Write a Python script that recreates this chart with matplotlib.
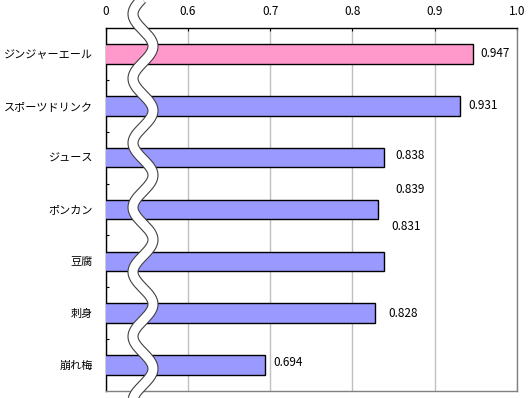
import numpy as np
import matplotlib
matplotlib.use("Agg")
import matplotlib.pyplot as plt
from matplotlib.lines import Line2D

plt.rcParams['font.family'] = ['Noto Sans CJK JP', 'DejaVu Sans']

categories = ["ジンジャーエール", "スポーツドリンク", "ジュース", "ポンカン", "豆腐", "刺身", "崩れ梅"]
values = [0.947, 0.931, 0.838, 0.831, 0.839, 0.828, 0.694]
bar_colors = ["#FF99CC"] + ["#9999FF"] * 6
tick_values = [0.5, 0.6, 0.7, 0.8, 0.9, 1.0]
tick_labels = ["0", "0.6", "0.7", "0.8", "0.9", "1.0"]
# label offsets in pixels (dx right, dy down) relative to bar end
label_dx = [7, 8, 12, 13, 11, 13, 8]
label_dy = [0, 0, -2, 17, -72, 0, -3]

W, H = 529, 398
fig = plt.figure(figsize=(W / 100, H / 100), dpi=100)
L, R, T, B = 105.5, 517, 28, 391
ax = fig.add_axes([L / W, 1 - B / H, (R - L) / W, (B - T) / H])

y = np.arange(len(categories))
ax.barh(y, values, left=0, height=0.38, color=bar_colors, edgecolor="black",
        linewidth=1.0, zorder=3)

ax.set_xlim(0.5, 1.0)
ax.set_ylim(len(categories) - 0.5, -0.5)

ax.xaxis.tick_top()
ax.set_xticks(tick_values)
ax.set_xticklabels(tick_labels, fontsize=8.5)
ax.tick_params(axis='x', direction='in', length=2.5, width=0.8, pad=7, colors='black')
ax.xaxis.grid(True, color="#C0C0C0", linewidth=1.0, zorder=0)

ax.set_yticks(y)
ax.set_yticklabels(categories, fontsize=8)
ax.tick_params(axis='y', which='major', length=0, pad=9)
ax.set_yticks(np.arange(len(categories) - 1) + 0.5, minor=True)
ax.tick_params(axis='y', which='minor', direction='in', length=2.5, width=0.8)

ax.spines['left'].set_color('black')
ax.spines['top'].set_color('black')
ax.spines['right'].set_color('#808080')
ax.spines['bottom'].set_color('#808080')
for s in ax.spines.values():
    s.set_linewidth(1.0)

for i, v in enumerate(values):
    ax.annotate(f"{v:.3f}", xy=(v, i), xytext=(label_dx[i] * 0.72, -label_dy[i] * 0.72),
                textcoords='offset points', ha='left', va='center', fontsize=8.5,
                family=['Noto Sans CJK JP', 'DejaVu Sans'], zorder=4)

# axis-break squiggle (decoration) in pixel coordinates
yy = np.linspace(-5, H + 5, 600)
xx = 143 - 10 * np.cos(2 * np.pi * (yy - 14) / 64.5)
fx = xx / W
fy = 1 - yy / H
fig.add_artist(Line2D(fx, fy, transform=fig.transFigure, color="#404040",
                      linewidth=8.0, solid_capstyle='butt', zorder=10))
fig.add_artist(Line2D(fx, fy, transform=fig.transFigure, color="white",
                      linewidth=6.4, solid_capstyle='butt', zorder=11))

fig.savefig("out.png", dpi=100)
